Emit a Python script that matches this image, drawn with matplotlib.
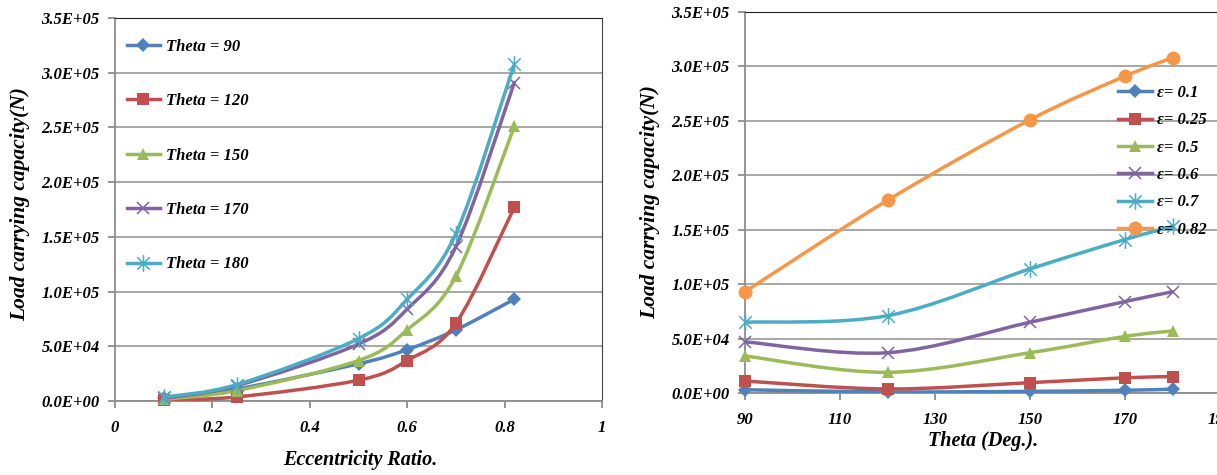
import numpy as np
import matplotlib
matplotlib.use("Agg")
import matplotlib.pyplot as plt
from matplotlib.path import Path
from matplotlib.patches import PathPatch
from matplotlib.lines import Line2D
from matplotlib.ticker import FuncFormatter

# ---------------- data ----------------
ecc = [0.1, 0.25, 0.5, 0.6, 0.7, 0.82]
theta = [90, 120, 150, 170, 180]

load_t90 = [3.0e3, 1.1e4, 3.4e4, 4.7e4, 6.5e4, 9.3e4]
load_t120 = [1.0e3, 3.7e3, 1.9e4, 3.7e4, 7.1e4, 1.77e5]
load_t150 = [1.5e3, 9.5e3, 3.7e4, 6.5e4, 1.14e5, 2.51e5]
load_t170 = [2.5e3, 1.4e4, 5.2e4, 8.4e4, 1.41e5, 2.91e5]
load_t180 = [3.5e3, 1.5e4, 5.7e4, 9.3e4, 1.53e5, 3.08e5]
load_by_theta = [load_t90, load_t120, load_t150, load_t170, load_t180]

left_labels = ["Theta = 90", "Theta = 120", "Theta = 150", "Theta = 170", "Theta = 180"]
right_labels = ["\u03b5= 0.1", "\u03b5= 0.25", "\u03b5= 0.5", "\u03b5= 0.6", "\u03b5= 0.7", "\u03b5= 0.82"]

left_xticks = [0, 0.2, 0.4, 0.6, 0.8, 1.0]
left_xticklabels = ["0", "0.2", "0.4", "0.6", "0.8", "1"]
right_xticks = [90, 110, 130, 150, 170, 190]
right_xticklabels = ["90", "110", "130", "150", "170", "190"]
yticks = [0, 5e4, 1e5, 1.5e5, 2e5, 2.5e5, 3e5, 3.5e5]

# ---------------- style ----------------
colors = ["#4F81BD", "#C0504D", "#9BBB59", "#8064A2", "#4BACC6", "#F79646"]
ast = Path([(0, -1), (0, 1), (-0.75, -0.75), (0.75, 0.75), (-0.75, 0.75), (0.75, -0.75)],
           [Path.MOVETO, Path.LINETO, Path.MOVETO, Path.LINETO, Path.MOVETO, Path.LINETO])
markers = [
    dict(marker="D", ms=7.5, mfc=None, mew=0),
    dict(marker="s", ms=9, mfc=None, mew=0),
    dict(marker="^", ms=9, mfc=None, mew=0),
    dict(marker="x", ms=9, mfc="none", mew=1.1),
    dict(marker=ast, ms=12, mfc="none", mew=1.1),
    dict(marker="o", ms=10, mfc=None, mew=0),
]

FONT = "Liberation Serif"
TICK_SIZE = 12
label_fp = dict(family=FONT, weight="bold", style="italic")

W, H = 1217, 475
fig = plt.figure(figsize=(W / 100, H / 100), dpi=100)


def smooth_path(xs, ys):
    pts = np.column_stack([xs, ys]).astype(float)
    n = len(pts)
    verts = [pts[0]]
    codes = [Path.MOVETO]
    for i in range(n - 1):
        p0 = pts[i - 1] if i > 0 else pts[i]
        p1 = pts[i]
        p2 = pts[i + 1]
        p3 = pts[i + 2] if i + 2 < n else pts[i + 1]
        c1 = p1 + (p2 - p0) / 6.0
        c2 = p2 - (p3 - p1) / 6.0
        verts += [c1, c2, p2]
        codes += [Path.CURVE4] * 3
    return Path(verts, codes)


def style_axes(ax, xticks, xticklabels, xlim):
    ax.set_xlim(*xlim)
    ax.set_ylim(0, 3.5e5)
    ax.set_yticks(yticks)
    ax.yaxis.set_major_formatter(FuncFormatter(lambda v, p: f"{v:.1E}"))
    ax.set_xticks(xticks)
    ax.set_xticklabels(xticklabels)
    for lab in ax.get_xticklabels() + ax.get_yticklabels():
        lab.set_fontfamily(FONT)
        lab.set_fontweight("bold")
        lab.set_fontstyle("italic")
        lab.set_fontsize(TICK_SIZE)
    ax.grid(axis="y", color="#A0A0A0", lw=1.3)
    ax.set_axisbelow(True)
    ax.spines["left"].set_color("#8C8C8C")
    ax.spines["bottom"].set_color("#8C8C8C")
    ax.spines["left"].set_linewidth(1.3)
    ax.spines["bottom"].set_linewidth(1.3)
    ax.spines["top"].set_color("#222222")
    ax.spines["right"].set_color("#404040")
    ax.tick_params(axis="both", direction="out", length=5, width=1.3, color="#8C8C8C")
    ax.tick_params(axis="y", pad=6)
    ax.tick_params(axis="x", pad=9)


def draw_series(ax, xs, ys, i):
    c = colors[i]
    m = dict(markers[i])
    ax.add_patch(PathPatch(smooth_path(xs, ys), fill=False, edgecolor=c, lw=2.5,
                           capstyle="round", joinstyle="round", zorder=3 + i * 0.1))
    mfc = c if m["mfc"] is None else m["mfc"]
    ax.plot(xs, ys, linestyle="none", marker=m["marker"], ms=m["ms"], mfc=mfc,
            mec=c, mew=m["mew"], zorder=3.05 + i * 0.1, clip_on=False)
    return Line2D([], [], color=c, lw=2.5, marker=m["marker"], ms=m["ms"], mfc=mfc,
                  mec=c, mew=m["mew"])


# ---------------- left chart ----------------
axL = fig.add_axes([115 / W, 1 - 401 / H, (602 - 115) / W, (401 - 18) / H])
style_axes(axL, left_xticks, left_xticklabels, (0, 1))
handlesL = []
for i, ys in enumerate(load_by_theta):
    handlesL.append(draw_series(axL, ecc, ys, i))
axL.legend(handlesL, left_labels, loc="upper left", bbox_to_anchor=(127 / W, 1 - 39 / H),
           bbox_transform=fig.transFigure, frameon=False, borderpad=0, borderaxespad=0,
           handlelength=1.95, handletextpad=0.4, labelspacing=2.3, numpoints=1,
           prop=dict(family=FONT, weight="bold", style="italic", size=12))
fig.text(20 / W, 1 - 204 / H, "Load carrying capacity(N)", rotation=90,
         ha="center", va="center", size=15.5, **label_fp)
fig.text(360 / W, 1 - 460 / H, "Eccentricity Ratio.", ha="center", va="center",
         size=14.5, **label_fp)

# ---------------- right chart ----------------
axR = fig.add_axes([745 / W, 1 - 393 / H, (1220 - 745) / W, (393 - 12) / H])
style_axes(axR, right_xticks, right_xticklabels, (90, 190))
handlesR = []
for j, e in enumerate(ecc):
    ys = [load_by_theta[k][j] for k in range(len(theta))]
    handlesR.append(draw_series(axR, theta, ys, j))
axR.legend(handlesR, right_labels, loc="upper left", bbox_to_anchor=(1118 / W, 1 - 85 / H),
           bbox_transform=fig.transFigure, frameon=False, borderpad=0, borderaxespad=0,
           handlelength=2.05, handletextpad=0.3, labelspacing=0.68, numpoints=1,
           prop=dict(family=FONT, weight="bold", style="italic", size=12))
fig.text(650 / W, 1 - 202 / H, "Load carrying capacity(N)", rotation=90,
         ha="center", va="center", size=15.5, **label_fp)
fig.text(983 / W, 1 - 441 / H, "Theta (Deg.).", ha="center", va="center",
         size=14.5, **label_fp)

fig.savefig("out.png", dpi=100)
